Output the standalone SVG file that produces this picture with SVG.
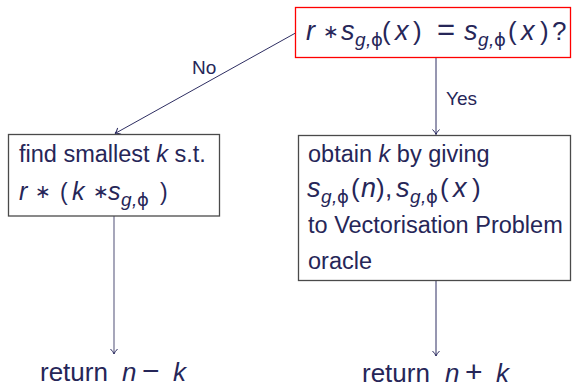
<svg xmlns="http://www.w3.org/2000/svg" width="573" height="388" viewBox="0 0 573 388">
<defs>
<marker id="arr" markerUnits="userSpaceOnUse" markerWidth="12" markerHeight="12" viewBox="-8 -6 10 12" refX="0" refY="0" orient="auto">
<path d="M-5,-3.5 Q-2,-0.5 0,0 Q-2,0.5 -5,3.5" fill="none" stroke="#2e2e62" stroke-width="1"/>
</marker>
<style>
text{font-family:"Liberation Sans","DejaVu Sans",sans-serif;fill:#262658;}
.t{font-size:23.5px;}
.m{font-size:27px;}
.ml{font-size:25px;}
.i{font-style:italic;}
.p{font-size:26px;font-style:normal;}
.pl{font-size:23px;font-style:normal;}
.op{font-size:19px;font-family:"DejaVu Sans",sans-serif;font-style:normal;}
.eq{font-size:31px;font-style:normal;}
.sub{font-size:19px;font-style:italic;}
.phi{font-size:18px;font-family:"DejaVu Sans",sans-serif;font-style:normal;}
.lab{font-size:19px;}
.ret{font-size:26px;}
.rop{font-size:30px;}
.box{fill:#fff;stroke:#4a4a4a;stroke-width:1.3;}
.dec{fill:#fff;stroke:#ff0000;stroke-width:1.3;}
.c{fill:none;stroke:#2e2e62;stroke-width:1;}
.cg{fill:none;stroke:#6c6c8c;stroke-width:1.2;}
</style>
</defs>

<g id="connectors">
<line class="c" x1="295.5" y1="33" x2="115" y2="133.5" marker-end="url(#arr)"/>
<line class="c" x1="436" y1="57.5" x2="436" y2="134.5" marker-end="url(#arr)"/>
<line class="cg" x1="114" y1="216" x2="114" y2="354" marker-end="url(#arr)"/>
<line class="c" x1="436" y1="280.5" x2="436" y2="356" marker-end="url(#arr)"/>
<text class="lab" x="192" y="74">No</text>
<text class="lab" x="446" y="105">Yes</text>
</g>

<g id="decision">
<rect class="dec" x="295.5" y="7.5" width="275" height="50"/>
<text class="m" y="40"><tspan class="i" x="306">r</tspan><tspan class="op" x="323" y="38">∗</tspan><tspan class="i" x="341" y="40">s</tspan><tspan class="sub" x="355" y="46">g</tspan><tspan class="sub" x="366" y="46">,</tspan><tspan class="phi" x="371" y="46">ϕ</tspan><tspan class="p" x="382" y="40">(</tspan><tspan class="i" x="395">x</tspan><tspan class="p" x="413">)</tspan><tspan class="eq" x="437">=</tspan><tspan class="i" x="464">s</tspan><tspan class="sub" x="478" y="46">g</tspan><tspan class="sub" x="489" y="46">,</tspan><tspan class="phi" x="494" y="46">ϕ</tspan><tspan class="p" x="508" y="40">(</tspan><tspan class="i" x="521">x</tspan><tspan class="p" x="540">)</tspan><tspan class="p" x="552">?</tspan></text>
</g>

<g id="find-k">
<rect class="box" x="8.5" y="134.5" width="211" height="81.5"/>
<text class="t" x="19" y="162">find smallest <tspan class="i">k</tspan> s.t.</text>
<text class="ml" y="200"><tspan class="i" x="19">r</tspan><tspan class="op" x="35" y="198">∗</tspan><tspan class="pl" x="60" y="200">(</tspan><tspan class="i" x="72">k</tspan><tspan class="op" x="93" y="198">∗</tspan><tspan class="i" x="108" y="200">s</tspan><tspan class="sub" x="121" y="206">g</tspan><tspan class="sub" x="132" y="206">,</tspan><tspan class="phi" x="137" y="206">ϕ</tspan><tspan class="pl" x="160" y="200">)</tspan></text>
</g>

<g id="oracle">
<rect class="box" x="298.5" y="135.5" width="272" height="145"/>
<text class="t" x="308" y="162">obtain <tspan class="i">k</tspan> by giving</text>
<text class="m" y="197"><tspan class="i" x="307">s</tspan><tspan class="sub" x="321" y="203">g</tspan><tspan class="sub" x="332" y="203">,</tspan><tspan class="phi" x="337" y="203">ϕ</tspan><tspan class="p" x="351" y="197">(</tspan><tspan class="i" x="361">n</tspan><tspan class="p" x="376">)</tspan><tspan class="p" x="385">,</tspan><tspan class="i" x="396">s</tspan><tspan class="sub" x="410" y="203">g</tspan><tspan class="sub" x="421" y="203">,</tspan><tspan class="phi" x="426" y="203">ϕ</tspan><tspan class="p" x="440" y="197">(</tspan><tspan class="i" x="453">x</tspan><tspan class="p" x="472">)</tspan></text>
<text class="t" x="308" y="233">to Vectorisation Problem</text>
<text class="t" x="308" y="269">oracle</text>
</g>

<g id="return-minus">
<text class="ret" y="381"><tspan x="40">return</tspan><tspan class="i" x="122">n</tspan><tspan class="rop" x="142">−</tspan><tspan class="i" x="173">k</tspan></text>
</g>

<g id="return-plus">
<text class="ret" y="382"><tspan x="362">return</tspan><tspan class="i" x="445">n</tspan><tspan class="rop" x="465">+</tspan><tspan class="i" x="496">k</tspan></text>
</g>
</svg>
